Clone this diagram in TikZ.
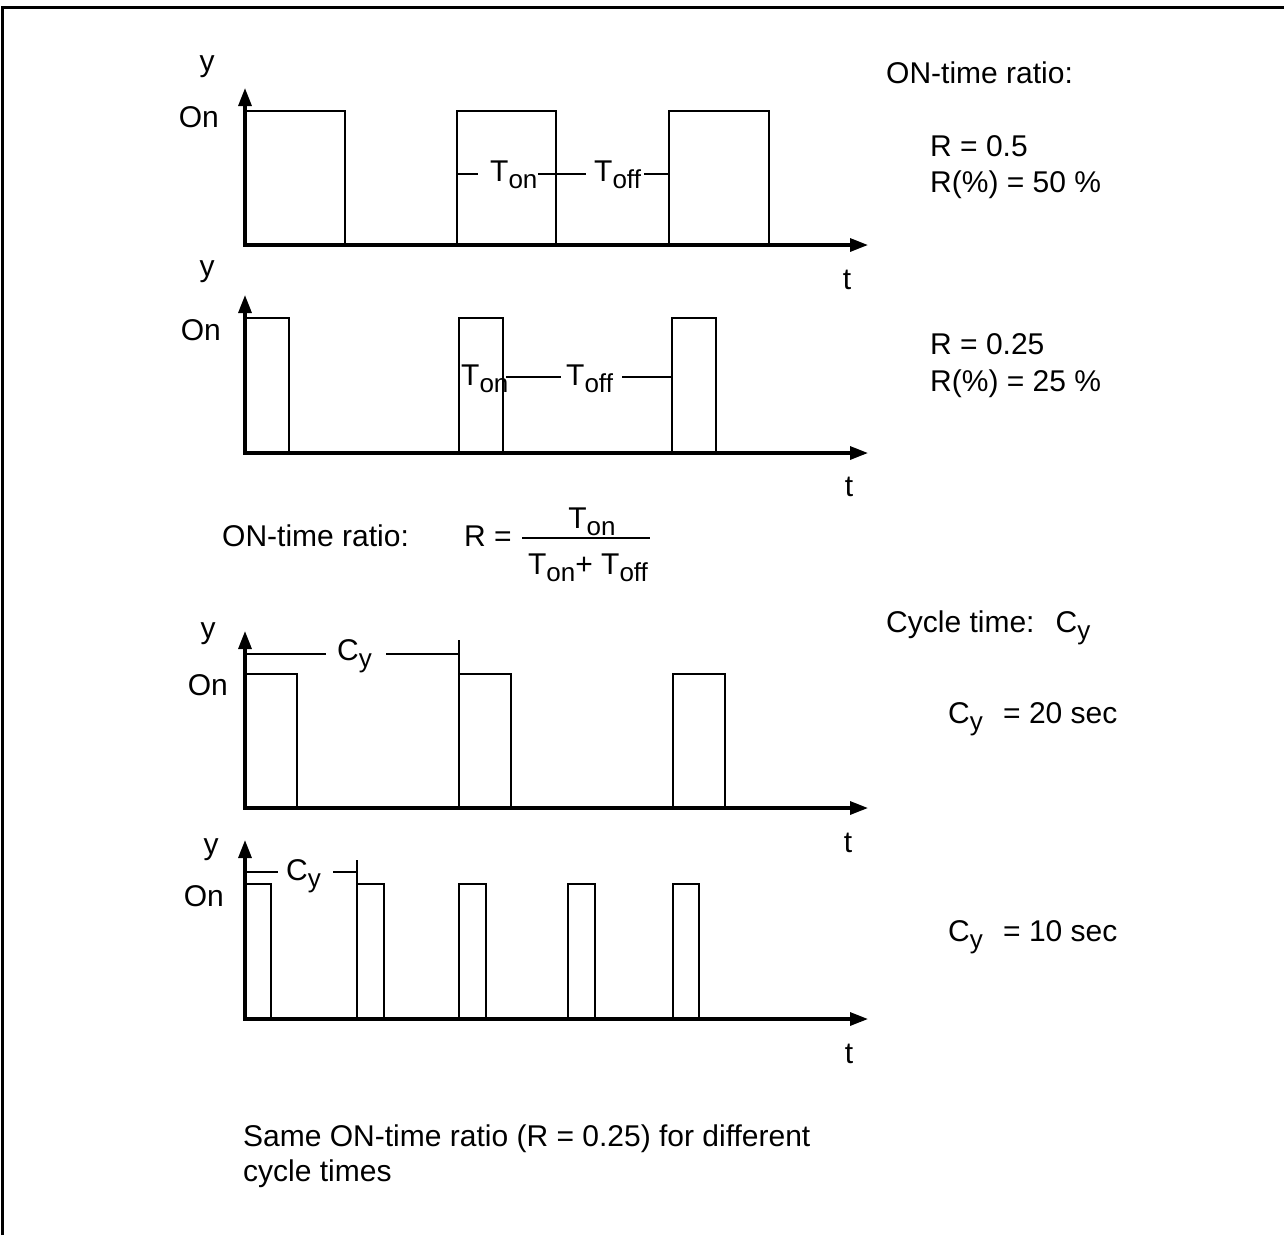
\documentclass[tikz,border=0pt]{standalone}
\usepackage{fontspec}
\setmainfont{Liberation Sans}
\usepackage{tikz}
\usetikzlibrary{arrows.meta}

\newcommand{\bigfont}{\fontsize{30}{35.5}\selectfont}
\newcommand{\lowsub}[1]{\raisebox{-7.5pt}{\fontsize{26}{26}\selectfont #1}}
\newcommand{\Ton}{T\lowsub{on}}
\newcommand{\Toff}{T\lowsub{off}}
\newcommand{\Cy}{C\lowsub{y}}

\begin{document}
\begin{tikzpicture}[x=1pt,y=-1pt,font=\bigfont,
  axis/.style={line width=3.2pt,{Triangle[length=18pt,width=13pt]}-{Triangle[length=18pt,width=13pt]}},
  pulse/.style={line width=2.4pt},
  dimline/.style={line width=1.2pt},
  every node/.style={inner sep=0pt}]
\useasboundingbox (0,0) rectangle (1284,1235);
% frame
\draw[line width=3pt] (2.5,1235) -- (2.5,7.5) -- (1284,7.5);

% R = 0.5
\coordinate (O1) at (245,245);
\draw[axis] (245,88) -- (O1) -- (868,245);
\node[anchor=base] (y1) at (207,71) {y};
\node[anchor=base east] (on1) at (219,127) {On};
\node[anchor=base] (t1) at (847,289) {t};
\draw[pulse] (245,111) -- (345,111) -- (345,245);
\draw[pulse] (457,245) -- (457,111) -- (556,111) -- (556,245);
\draw[pulse] (669,245) -- (669,111) -- (769,111) -- (769,245);
\draw[dimline] (457,174) -- (478,174);
\node[anchor=base west] (Ton1) at (490,181) {\Ton};
\draw[dimline] (538,174) -- (586,174);
\node[anchor=base west] (Toff1) at (594,181) {\Toff};
\draw[dimline] (644,174) -- (669,174);

% R = 0.25
\coordinate (O2) at (245,453);
\draw[axis] (245,295) -- (O2) -- (868,453);
\node[anchor=base] (y2) at (207,276) {y};
\node[anchor=base east] (on2) at (221,340) {On};
\node[anchor=base] (t2) at (849,496) {t};
\draw[pulse] (245,318) -- (289,318) -- (289,453);
\draw[pulse] (459,453) -- (459,318) -- (503,318) -- (503,453);
\draw[pulse] (672,453) -- (672,318) -- (716,318) -- (716,453);
\node[anchor=base west] (Ton2) at (461,385) {\Ton};
\draw[dimline] (506,377) -- (561,377);
\node[anchor=base west] (Toff2) at (566,385) {\Toff};
\draw[dimline] (622,377) -- (672,377);

% formula
\node[anchor=base west] (ratio) at (222,546) {ON-time ratio:};
\node[anchor=base west] (Req) at (464,546) {R =};
\node[anchor=base] (num) at (592,528) {\Ton};
\draw[dimline] (522,538) -- (650,538);
\node[anchor=base] (den) at (588,574) {\Ton+ \Toff};

% Cy = 20 sec
\coordinate (O3) at (245,808);
\draw[axis] (245,631) -- (O3) -- (868,808);
\node[anchor=base] (y3) at (208,638) {y};
\node[anchor=base east] (on3) at (228,695) {On};
\node[anchor=base] (t3) at (848,852) {t};
\draw[pulse] (245,674) -- (297,674) -- (297,808);
\draw[pulse] (459,808) -- (459,674) -- (511,674) -- (511,808);
\draw[pulse] (673,808) -- (673,674) -- (725,674) -- (725,808);
\draw[dimline] (245,654) -- (326,654);
\node[anchor=base west] (Cy3) at (337,660) {\Cy};
\draw[dimline] (386,654) -- (459,654);
\draw[dimline] (459,640) -- (459,674);

% Cy = 10 sec
\coordinate (O4) at (245,1019);
\draw[axis] (245,840) -- (O4) -- (868,1019);
\node[anchor=base] (y4) at (211,854) {y};
\node[anchor=base east] (on4) at (224,906) {On};
\node[anchor=base] (t4) at (849,1063) {t};
\draw[pulse] (245,884) -- (271,884) -- (271,1019);
\draw[pulse] (357,1019) -- (357,884) -- (384,884) -- (384,1019);
\draw[pulse] (459,1019) -- (459,884) -- (486,884) -- (486,1019);
\draw[pulse] (568,1019) -- (568,884) -- (595,884) -- (595,1019);
\draw[pulse] (673,1019) -- (673,884) -- (699,884) -- (699,1019);
\draw[dimline] (245,872) -- (278,872);
\node[anchor=base west] (Cy4) at (286,880) {\Cy};
\draw[dimline] (333,872) -- (357,872);
\draw[dimline] (357,860) -- (357,884);

% right column
\node[anchor=base west] (head1) at (886,83) {ON-time ratio:};
\node[anchor=base west] (r1) at (930,156) {R = 0.5};
\node[anchor=base west] (p1) at (930,192) {R(\%) = 50 \%};
\node[anchor=base west] (r2) at (930,354) {R = 0.25};
\node[anchor=base west] (p2) at (930,391) {R(\%) = 25 \%};
\node[anchor=base west] (head2) at (886,632) {Cycle time:\hspace{10pt} \Cy};
\node[anchor=base west] (c1) at (948,723) {\Cy\hspace{12pt} = 20 sec};
\node[anchor=base west] (c2) at (948,941) {\Cy\hspace{12pt} = 10 sec};

% note
\node[anchor=base west] (note1) at (243,1146) {Same ON-time ratio (R = 0.25) for different};
\node[anchor=base west] (note2) at (243,1181) {cycle times};
\end{tikzpicture}
\end{document}
